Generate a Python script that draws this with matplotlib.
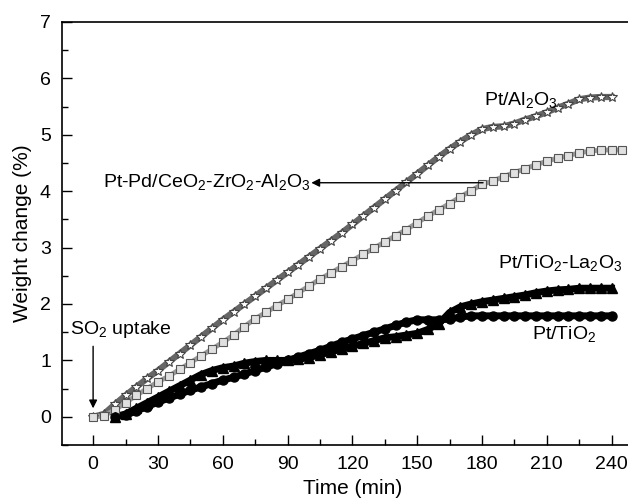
import numpy as np
import matplotlib
matplotlib.use('Agg')
import matplotlib.pyplot as plt
from matplotlib.ticker import MultipleLocator

plt.rcParams['font.family'] = ['Liberation Sans', 'DejaVu Sans']
plt.rcParams['mathtext.fontset'] = 'custom'
plt.rcParams['mathtext.rm'] = 'Liberation Sans'

# time grid (min), 5-min steps
t_al = list(range(0, 245, 5))
pt_al2o3 = [0.00, 0.05, 0.22, 0.38, 0.53, 0.68, 0.82, 0.97, 1.12, 1.27,
            1.42, 1.57, 1.72, 1.86, 2.00, 2.14, 2.28, 2.42, 2.56, 2.70,
            2.84, 2.98, 3.12, 3.26, 3.41, 3.56, 3.71, 3.86, 4.01, 4.16,
            4.31, 4.46, 4.61, 4.75, 4.88, 5.00, 5.10, 5.14, 5.15, 5.20,
            5.27, 5.33, 5.40, 5.48, 5.55, 5.63, 5.66, 5.67, 5.67]

t_pd = list(range(0, 250, 5))
ptpd_cezr = [0.00, 0.02, 0.12, 0.25, 0.38, 0.50, 0.62, 0.72, 0.84, 0.96,
             1.08, 1.20, 1.32, 1.45, 1.60, 1.74, 1.85, 1.97, 2.08, 2.20,
             2.32, 2.44, 2.55, 2.66, 2.77, 2.88, 2.99, 3.10, 3.21, 3.32,
             3.44, 3.56, 3.67, 3.78, 3.90, 4.01, 4.12, 4.18, 4.26, 4.33,
             4.40, 4.47, 4.53, 4.59, 4.63, 4.68, 4.71, 4.73, 4.73, 4.73]

t_ti = list(range(10, 245, 5))
pt_tio2_la = [0.00, 0.05, 0.15, 0.25, 0.35, 0.45, 0.55, 0.65, 0.75, 0.82,
              0.87, 0.90, 0.95, 0.98, 1.00, 1.00, 1.00, 1.02, 1.05, 1.10,
              1.15, 1.20, 1.25, 1.30, 1.35, 1.40, 1.42, 1.45, 1.48, 1.55,
              1.65, 1.85, 1.95, 2.00, 2.04, 2.07, 2.10, 2.13, 2.16, 2.20,
              2.23, 2.25, 2.26, 2.28, 2.28, 2.28, 2.28]
pt_tio2 = [0.00, 0.03, 0.10, 0.18, 0.26, 0.33, 0.40, 0.47, 0.53, 0.59,
           0.65, 0.70, 0.76, 0.82, 0.88, 0.94, 1.00, 1.06, 1.12, 1.18,
           1.25, 1.32, 1.38, 1.44, 1.50, 1.56, 1.62, 1.68, 1.72, 1.72,
           1.72, 1.73, 1.77, 1.79, 1.79, 1.79, 1.79, 1.79, 1.79, 1.79,
           1.79, 1.79, 1.79, 1.79, 1.79, 1.79, 1.79]

fig = plt.figure(figsize=(6.28, 5.04), dpi=100)
ax = fig.add_axes([62 / 628, 59 / 504, 582 / 628, 423 / 504])

ax.plot(t_al, pt_al2o3, color='#666666', lw=4.5, zorder=2)
ax.plot(t_al, pt_al2o3, ls='none', marker='*', ms=7.5, mfc='white',
        mec='#444444', mew=0.8, zorder=3)

ax.plot(t_pd, ptpd_cezr, color='#999999', lw=3.5, zorder=2)
ax.plot(t_pd, ptpd_cezr, ls='none', marker='s', ms=6, mfc='#e0e0e0',
        mec='#555555', mew=0.8, zorder=3)

ax.plot(t_ti, pt_tio2_la, color='black', lw=5, zorder=2)
ax.plot(t_ti, pt_tio2_la, ls='none', marker='^', ms=7, color='black', zorder=3)

ax.plot(t_ti, pt_tio2, color='black', lw=5, zorder=2)
ax.plot(t_ti, pt_tio2, ls='none', marker='o', ms=6.5, color='black', zorder=3)

fs = 14
ax.text(181, 5.6, r'Pt/Al$_\mathregular{2}$O$_\mathregular{3}$',
        fontsize=fs, ha='left', va='center')
ax.text(4.5, 4.15,
        r'Pt-Pd/CeO$_\mathregular{2}$-ZrO$_\mathregular{2}$-Al$_\mathregular{2}$O$_\mathregular{3}$',
        fontsize=fs, ha='left', va='center')
ax.annotate('', xy=(101, 4.15), xytext=(180.5, 4.15),
            arrowprops=dict(arrowstyle='-|>', color='black', lw=1.0,
                            mutation_scale=12, shrinkA=0, shrinkB=0))
ax.text(187.5, 2.71, r'Pt/TiO$_\mathregular{2}$-La$_\mathregular{2}$O$_\mathregular{3}$',
        fontsize=fs, ha='left', va='center')
ax.text(203, 1.45, r'Pt/TiO$_\mathregular{2}$', fontsize=fs, ha='left', va='center')
ax.text(-10.7, 1.54, r'SO$_\mathregular{2}$ uptake', fontsize=fs, ha='left', va='center')
ax.annotate('', xy=(0, 0.15), xytext=(0, 1.25),
            arrowprops=dict(arrowstyle='-|>', color='black', lw=1.0,
                            mutation_scale=12, shrinkA=0, shrinkB=0))

ax.set_xlim(-14.4, 255)
ax.set_ylim(-0.5, 7)
ax.xaxis.set_major_locator(MultipleLocator(30))
ax.xaxis.set_minor_locator(MultipleLocator(15))
ax.yaxis.set_major_locator(MultipleLocator(1))
ax.yaxis.set_minor_locator(MultipleLocator(0.5))
ax.tick_params(which='both', direction='in', top=False, right=False,
               labelsize=14, width=1.0)
ax.tick_params(which='major', length=7, pad=8)
ax.tick_params(which='minor', length=4)
for sp in ax.spines.values():
    sp.set_linewidth(1.2)

ax.set_xlabel('Time (min)', fontsize=15, labelpad=4)
ax.set_ylabel('Weight change (%)', fontsize=15, labelpad=6)

fig.savefig('out.png', dpi=100)
